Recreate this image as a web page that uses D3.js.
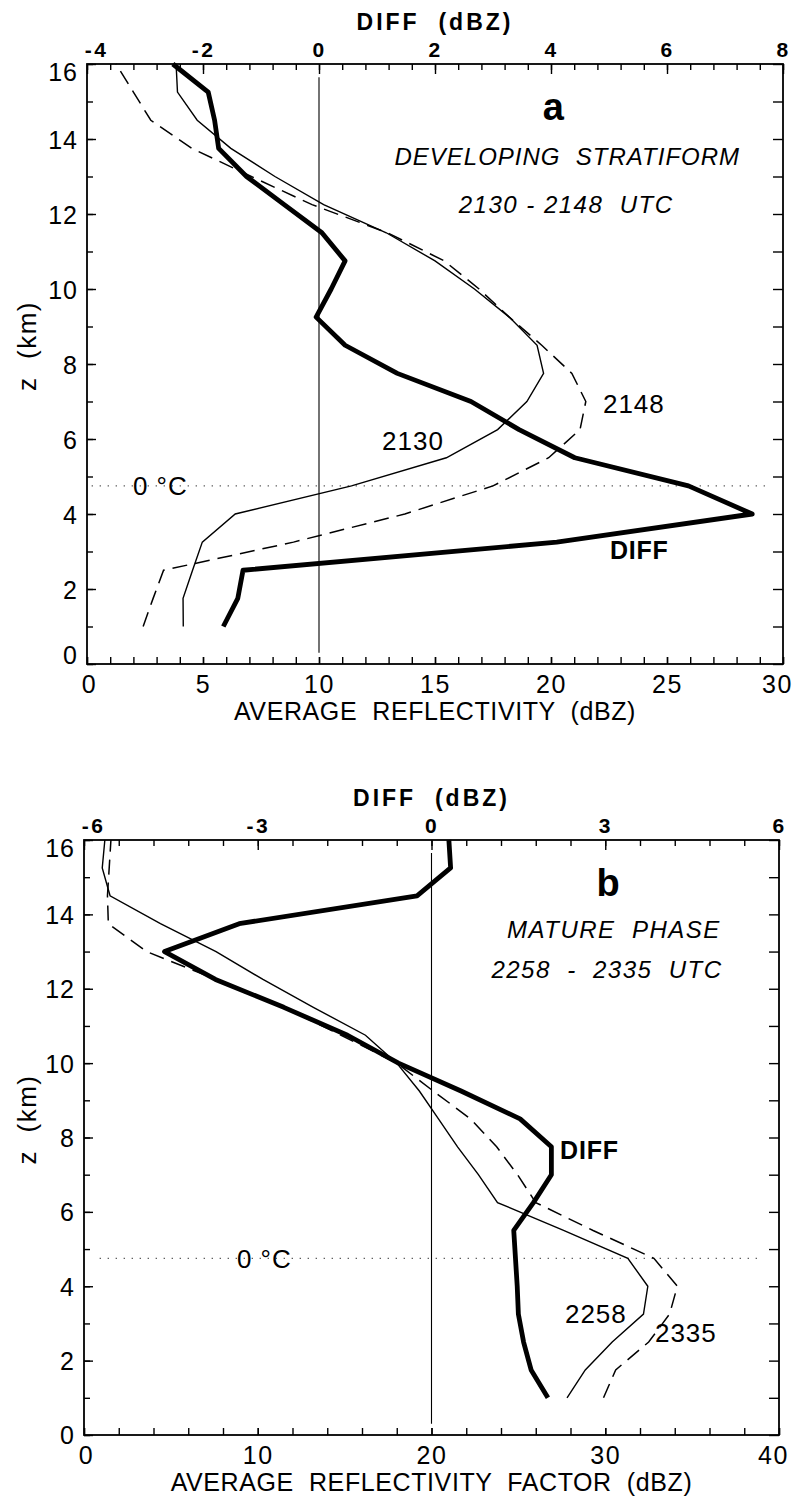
<!DOCTYPE html>
<html>
<head>
<meta charset="utf-8">
<script src="https://cdn.jsdelivr.net/npm/d3@7"></script>
<style>
  body { margin: 0; background: #fff; }
  svg text { font-family: "Liberation Sans", Arial, sans-serif; fill: #000; }
</style>
</head>
<body>
<div id="chart"></div>
<script>
// profile levels (km)
var heights = [1, 1.75, 2.5, 3.25, 4, 4.75, 5.5, 6.25, 7, 7.75, 8.5, 9.25, 10, 10.75, 11.5, 12.25, 13, 13.75, 14.5, 15.25, 16];

// panel a: developing stratiform
var refl2130 = [4.15, 4.14, 4.55, 4.97, 6.39, 11.4, 15.49, 17.7, 18.96, 19.68, 19.4, 18.2, 16.7, 15.0, 12.9, 10.2, 8.1, 6.2, 4.75, 3.9, 3.84];
var refl2148 = [2.42, 2.85, 3.3, 8.9, 13.7, 17.5, 19.9, 21.25, 21.5, 20.9, 19.6, 18.2, 16.9, 15.4, 12.95, 9.7, 7.08, 4.52, 2.75, 2.0, 1.25];
var diffA = [-1.65, -1.40, -1.31, 4.1, 7.47, 6.37, 4.41, 3.45, 2.62, 1.35, 0.45, -0.05, 0.21, 0.45, 0.05, -0.6, -1.25, -1.73, -1.8, -1.91, -2.52];

// panel b: mature phase
var refl2258 = [27.8, 28.85, 30.4, 32.2, 32.45, 31.3, 27.6, 23.8, 22.7, 21.5, 20.4, 19.3, 18.0, 16.2, 13.2, 10.3, 7.6, 4.4, 1.5, 1.05, 1.2];
var refl2335 = [29.9, 30.6, 32.5, 33.7, 34.15, 32.8, 29.3, 26.0, 24.95, 23.75, 22.25, 20.1, 18.0, 14.8, 11.5, 7.6, 3.6, 1.4, 1.35, 1.45, 1.55];
var diffB = [2.01, 1.72, 1.59, 1.5, 1.48, 1.45, 1.42, 1.76, 2.07, 2.07, 1.53, 0.51, -0.57, -1.45, -2.55, -3.73, -4.61, -3.32, -0.25, 0.33, 0.3];

var zTicks = [0, 2, 4, 6, 8, 10, 12, 14, 16];
var reflTicksA = [0, 5, 10, 15, 20, 25, 30];
var diffTicksA = [-4, -2, 0, 2, 4, 6, 8];
var reflTicksB = [0, 10, 20, 30, 40];
var diffTicksB = [-6, -3, 0, 3, 6];
var freezingLevel = 4.75;

var svg = d3.select("#chart").append("svg")
    .attr("width", 794)
    .attr("height", 1497);

function doProfile(p) {
    var x = d3.scaleLinear().domain(p.reflDomain).range([p.left, p.right]);
    var xd = d3.scaleLinear().domain(p.diffDomain).range([p.left, p.right]);
    var y = d3.scaleLinear().domain([0, 16]).range([p.bottom, p.top]);
    var g = svg.append("g");

    function plain(sel) { sel.select(".domain").remove(); sel.selectAll("line").attr("stroke", "#000").attr("stroke-width", 1.4); }

    // minor ticks
    g.append("g").attr("transform", "translate(0," + p.bottom + ")")
        .call(d3.axisBottom(x).tickValues(d3.range(p.reflDomain[0], p.reflDomain[1] + 0.01, p.reflMinor)).tickSize(-7).tickFormat(""))
        .call(plain);
    g.append("g").attr("transform", "translate(0," + p.top + ")")
        .call(d3.axisTop(x).tickValues(d3.range(p.reflDomain[0], p.reflDomain[1] + 0.01, p.reflMinor)).tickSize(-6).tickFormat(""))
        .call(plain);
    g.append("g").attr("transform", "translate(" + p.left + ",0)")
        .call(d3.axisLeft(y).tickValues(d3.range(0, 16.5, 1)).tickSize(-6).tickFormat(""))
        .call(plain);
    g.append("g").attr("transform", "translate(" + p.right + ",0)")
        .call(d3.axisRight(y).tickValues(d3.range(0, 16.5, 1)).tickSize(-10).tickFormat(""))
        .call(plain);

    // labelled axes
    var nb = p.reflTicks.length;
    var bx = g.append("g").attr("transform", "translate(0," + p.bottom + ")")
        .call(d3.axisBottom(x).tickValues(p.reflTicks).tickSize(-7).tickPadding(11))
        .call(plain);
    bx.selectAll("text").attr("font-size", 25).attr("font-family", null).style("letter-spacing", "1.5px")
        .attr("dx", function(d, i) { return i === nb - 1 ? -6 : (i === 0 ? 2 : 0); });

    var tx = g.append("g").attr("transform", "translate(0," + p.top + ")")
        .call(d3.axisTop(xd).tickValues(p.diffTicks).tickSize(-10).tickPadding(7))
        .call(plain);
    tx.selectAll("text").attr("font-size", 21).attr("font-weight", "bold").attr("font-family", null)
        .style("letter-spacing", "2.5px")
        .attr("dx", function(d, i) { return i === 0 ? 9 : 0; })
        .text(function(d) { return d < 0 ? "-" + Math.abs(d) : d; });

    var ly = g.append("g").attr("transform", "translate(" + p.left + ",0)")
        .call(d3.axisLeft(y).tickValues(zTicks).tickSize(-9).tickPadding(9))
        .call(plain);
    ly.selectAll("text").attr("font-size", 25).attr("font-family", null).style("letter-spacing", "1px")
        .attr("dy", function(d) { return d === 16 ? 16 : (d === 0 ? p.zeroShift : 9); });

    // frame
    g.append("rect")
        .attr("x", p.left).attr("y", p.top)
        .attr("width", p.right - p.left).attr("height", p.bottom - p.top)
        .attr("fill", "none").attr("stroke", "#000").attr("stroke-width", 1.8);

    // zero DIFF line
    g.append("line")
        .attr("x1", xd(0)).attr("x2", xd(0))
        .attr("y1", y(0.3)).attr("y2", y(15.65))
        .attr("stroke", "#000").attr("stroke-width", 1.1);

    // 0 C level
    g.append("line")
        .attr("x1", x(p.frzFrom)).attr("x2", x(p.frzTo))
        .attr("y1", y(freezingLevel)).attr("y2", y(freezingLevel))
        .attr("stroke", "#555").attr("stroke-width", 1.3)
        .attr("stroke-dasharray", "1.3,6.7");

    var reflLine = d3.line().x(function(d) { return x(d[0]); }).y(function(d) { return y(d[1]); });
    var diffLine = d3.line().x(function(d) { return xd(d[0]); }).y(function(d) { return y(d[1]); });

    g.append("path").datum(d3.zip(p.early, heights))
        .attr("d", reflLine).attr("fill", "none").attr("stroke", "#000").attr("stroke-width", 1.4);
    g.append("path").datum(d3.zip(p.late, heights))
        .attr("d", reflLine).attr("fill", "none").attr("stroke", "#000").attr("stroke-width", 1.5)
        .attr("stroke-dasharray", "15,8");
    g.append("path").datum(d3.zip(p.diff, heights))
        .attr("d", diffLine).attr("fill", "none").attr("stroke", "#000").attr("stroke-width", 4.8)
        .attr("stroke-linejoin", "round");

    // titles
    g.append("text")
        .attr("x", (p.left + p.right) / 2).attr("y", p.top - 34)
        .attr("text-anchor", "middle").attr("font-size", 23).attr("font-weight", "bold")
        .style("letter-spacing", "3px").style("white-space", "pre")
        .text("DIFF  (dBZ)");
    g.append("text")
        .attr("x", (p.left + p.right) / 2).attr("y", p.bottom + 56)
        .attr("text-anchor", "middle").attr("font-size", 25)
        .style("letter-spacing", "0.6px").style("white-space", "pre")
        .text(p.xTitle);
    g.append("text")
        .attr("transform", "translate(36," + ((p.top + p.bottom) / 2 - 18) + ") rotate(-90)")
        .attr("text-anchor", "middle").attr("font-size", 26)
        .style("letter-spacing", "1.5px").style("white-space", "pre")
        .text("z  (km)");

    // annotations
    p.notes.forEach(function(n) {
        g.append("text")
            .attr("x", x(n.v)).attr("y", y(n.z))
            .attr("text-anchor", n.anchor || "start")
            .attr("font-size", n.size || 26)
            .attr("font-weight", n.bold ? "bold" : null)
            .attr("font-style", n.italic ? "italic" : null)
            .style("letter-spacing", (n.ls === undefined ? 1 : n.ls) + "px")
            .style("white-space", "pre")
            .text(n.text);
    });
}

doProfile({
    left: 87, right: 783, top: 64, bottom: 664,
    reflDomain: [0, 30], diffDomain: [-4, 8], reflMinor: 1,
    reflTicks: reflTicksA, diffTicks: diffTicksA, zeroShift: -1,
    frzFrom: 0.2, frzTo: 29.3,
    early: refl2130, late: refl2148, diff: diffA,
    xTitle: "AVERAGE  REFLECTIVITY  (dBZ)",
    notes: [
        {text: "a", v: 20.1, z: 14.5, anchor: "middle", size: 38, bold: true, ls: 0},
        {text: "DEVELOPING  STRATIFORM", v: 20.7, z: 13.3, anchor: "middle", italic: true, size: 24, ls: 1},
        {text: "2130 - 2148  UTC", v: 20.65, z: 12.03, anchor: "middle", italic: true, size: 24, ls: 1.5},
        {text: "2148", v: 22.24, z: 6.69},
        {text: "2130", v: 12.72, z: 5.71},
        {text: "DIFF", v: 22.54, z: 2.8, bold: true, size: 25, ls: 0.8},
        {text: "0 \u00B0C", v: 1.98, z: 4.5}
    ]
});

doProfile({
    left: 84, right: 779, top: 840, bottom: 1435,
    reflDomain: [0, 40], diffDomain: [-6, 6], reflMinor: 2,
    reflTicks: reflTicksB, diffTicks: diffTicksB, zeroShift: 8,
    frzFrom: 0.9, frzTo: 39.0,
    early: refl2258, late: refl2335, diff: diffB,
    xTitle: "AVERAGE  REFLECTIVITY  FACTOR  (dBZ)",
    notes: [
        {text: "b", v: 30.16, z: 14.49, anchor: "middle", size: 38, bold: true, ls: 0},
        {text: "MATURE  PHASE", v: 30.5, z: 13.36, anchor: "middle", italic: true, size: 24, ls: 1.5},
        {text: "2258  -  2335  UTC", v: 30.1, z: 12.28, anchor: "middle", italic: true, size: 24, ls: 1.5},
        {text: "DIFF", v: 27.4, z: 7.42, bold: true, size: 25, ls: 0.8},
        {text: "2258", v: 27.68, z: 3.02},
        {text: "2335", v: 32.86, z: 2.51},
        {text: "0 \u00B0C", v: 8.8, z: 4.48}
    ]
});
</script>
</body>
</html>
